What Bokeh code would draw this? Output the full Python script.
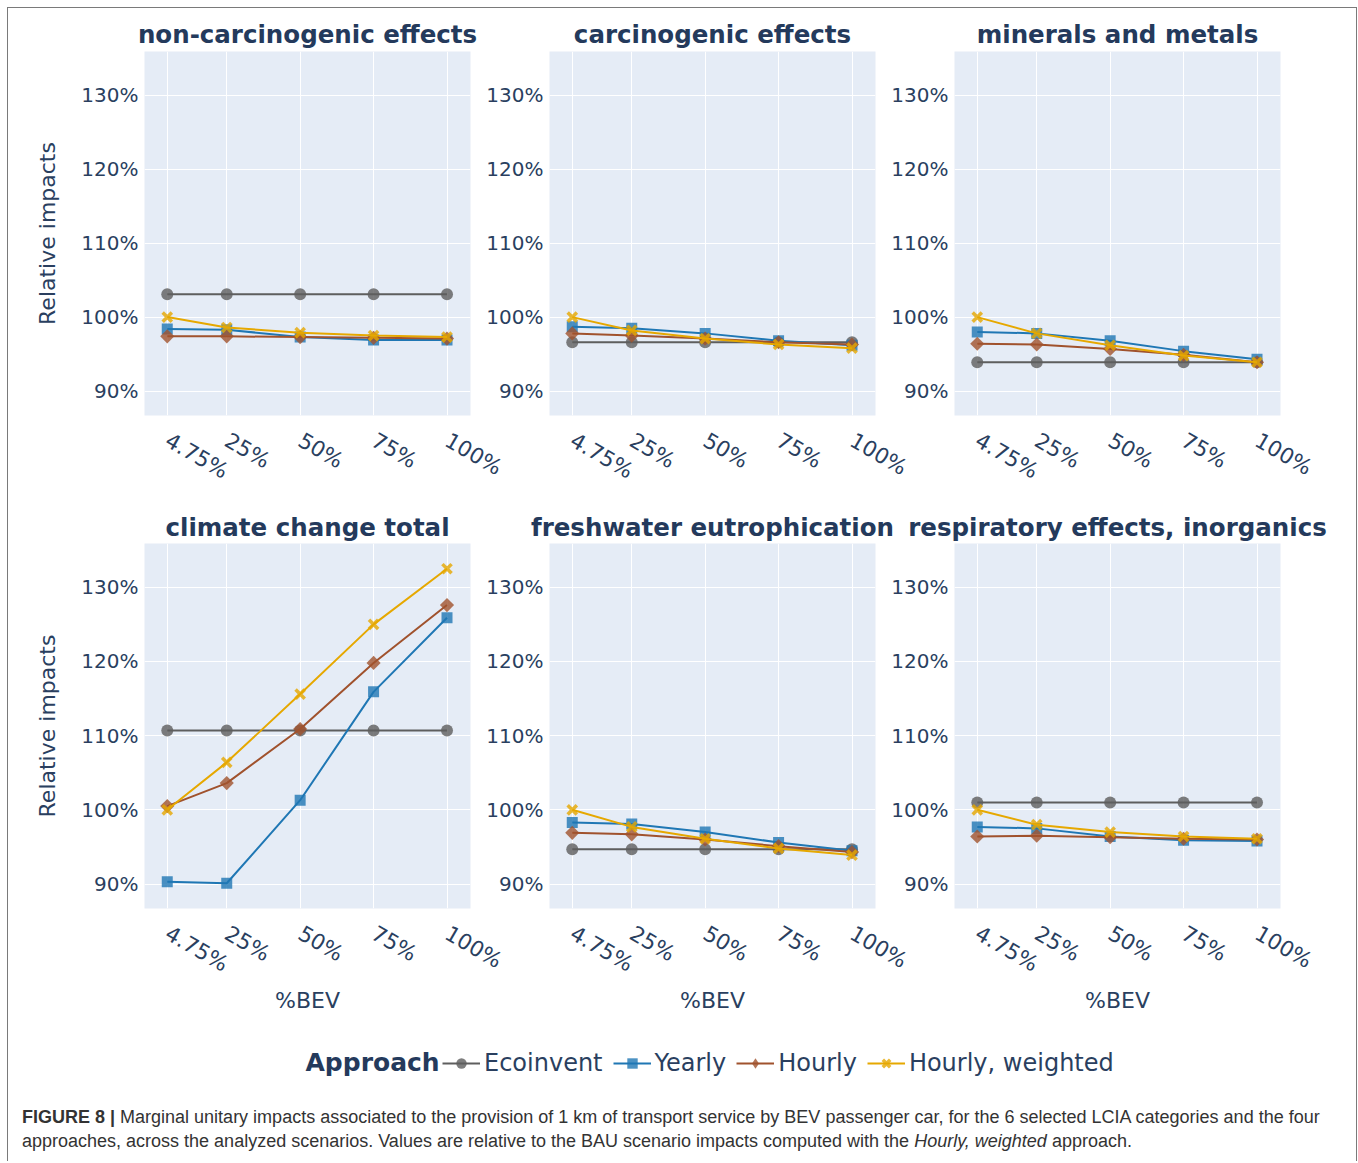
import math

from bokeh.embed import file_html
from bokeh.layouts import column, row
from bokeh.models import Div, FixedTicker, Label, Legend, LegendItem, PrintfTickFormatter, Range1d
from bokeh.plotting import figure
from bokeh.resources import INLINE

# Share of battery electric vehicles in each scenario
bev_share = [4.75, 25, 50, 75, 100]
bev_labels = ["4.75%", "25%", "50%", "75%", "100%"]
impact_ticks = [90, 100, 110, 120, 130]

approaches = ["Ecoinvent", "Yearly", "Hourly", "Hourly, weighted"]
categories = [
    "non-carcinogenic effects",
    "carcinogenic effects",
    "minerals and metals",
    "climate change total",
    "freshwater eutrophication",
    "respiratory effects, inorganics",
]

# Relative impacts (%) per approach, one dict per LCIA category
non_carcinogenic = {
    "Ecoinvent": [103.1, 103.1, 103.1, 103.1, 103.1],
    "Yearly": [98.4, 98.3, 97.3, 96.9, 96.9],
    "Hourly": [97.4, 97.4, 97.3, 97.2, 97.1],
    "Hourly, weighted": [100.0, 98.6, 97.9, 97.5, 97.3],
}
carcinogenic = {
    "Ecoinvent": [96.6, 96.6, 96.6, 96.6, 96.6],
    "Yearly": [98.7, 98.5, 97.8, 96.8, 96.2],
    "Hourly": [97.8, 97.5, 97.1, 96.6, 96.3],
    "Hourly, weighted": [100.0, 98.2, 97.1, 96.3, 95.8],
}
minerals_metals = {
    "Ecoinvent": [93.9, 93.9, 93.9, 93.9, 93.9],
    "Yearly": [98.0, 97.8, 96.8, 95.4, 94.3],
    "Hourly": [96.4, 96.3, 95.7, 94.9, 93.9],
    "Hourly, weighted": [100.0, 97.8, 96.2, 94.8, 93.9],
}
climate_change = {
    "Ecoinvent": [110.7, 110.7, 110.7, 110.7, 110.7],
    "Yearly": [90.3, 90.1, 101.3, 115.9, 125.9],
    "Hourly": [100.5, 103.6, 110.9, 119.8, 127.6],
    "Hourly, weighted": [100.0, 106.4, 115.6, 125.0, 132.5],
}
freshwater_eutro = {
    "Ecoinvent": [94.7, 94.7, 94.7, 94.7, 94.7],
    "Yearly": [98.3, 98.1, 97.0, 95.6, 94.5],
    "Hourly": [96.9, 96.7, 96.0, 95.1, 94.3],
    "Hourly, weighted": [100.0, 97.7, 96.1, 94.8, 93.9],
}
respiratory_inorg = {
    "Ecoinvent": [101.0, 101.0, 101.0, 101.0, 101.0],
    "Yearly": [97.7, 97.5, 96.4, 95.9, 95.8],
    "Hourly": [96.4, 96.5, 96.3, 96.1, 96.0],
    "Hourly, weighted": [100.0, 98.0, 97.0, 96.4, 96.1],
}
panel_data = [non_carcinogenic, carcinogenic, minerals_metals,
              climate_change, freshwater_eutro, respiratory_inorg]

FONT = "DejaVu Sans"
INK = "#2a3f5f"
TITLE_INK = "#243a5c"
PLOT_BG = "#e5ecf6"

STYLE = {
    "Ecoinvent": dict(color="#5e5e5e", marker="circle", size=12, angle=0.0),
    "Yearly": dict(color="#1f77b4", marker="square", size=11, angle=0.0),
    "Hourly": dict(color="#a0522d", marker="square", size=10, angle=math.pi / 4),
    "Hourly, weighted": dict(color="#e6a800", marker="x", size=13, angle=0.0),
}


def add_series(p, data, visible=True, legend_only=False):
    renderers = {}
    for name in approaches:
        st = STYLE[name]
        ln = p.line(bev_share, data[name], line_color=st["color"], line_width=2, visible=visible)
        if st["marker"] == "x":
            mk = p.scatter(bev_share, data[name], marker="x", size=st["size"],
                           line_color=st["color"], line_width=3.5, line_alpha=0.8, visible=visible)
        else:
            marker = st["marker"]
            if legend_only and st["angle"]:
                marker = "diamond"
            mk = p.scatter(bev_share, data[name], marker=marker, size=st["size"],
                           angle=st["angle"], fill_color=st["color"], fill_alpha=0.8,
                           line_color=None, visible=visible)
        renderers[name] = [ln, mk]
    return renderers


def make_panel(idx):
    r, c = divmod(idx, 3)
    p = figure(
        title=categories[idx],
        frame_width=326,
        frame_height=364 if r == 0 else 365,
        min_border_left=136 if c == 0 else 75,
        min_border_right=50 if c == 2 else 40,
        min_border_top=43,
        min_border_bottom=85 if r == 0 else 112,
        x_range=Range1d(-3, 108),
        y_range=Range1d(86.7, 135.9),
        output_backend="svg",
        toolbar_location=None,
    )
    p.background_fill_color = PLOT_BG
    p.border_fill_color = None
    p.outline_line_color = None

    p.title.align = "center"
    p.title.text_font = FONT
    p.title.text_font_size = "24.5px"
    p.title.text_font_style = "bold"
    p.title.text_color = TITLE_INK
    p.title.standoff = 5 if r == 0 else 4

    p.xaxis.ticker = FixedTicker(ticks=bev_share)
    p.xaxis.major_label_overrides = dict(zip(bev_share, bev_labels))
    p.xaxis.major_label_orientation = -math.pi / 6
    p.xaxis.major_label_standoff = 23
    p.yaxis.ticker = FixedTicker(ticks=impact_ticks)
    p.yaxis.formatter = PrintfTickFormatter(format="%d%%")
    p.yaxis.major_label_standoff = 6

    for ax in (p.xaxis, p.yaxis):
        ax.axis_line_color = None
        ax.major_tick_line_color = None
        ax.minor_tick_line_color = None
        ax.major_tick_out = 0
        ax.major_tick_in = 0
        ax.major_label_text_font = FONT
        ax.major_label_text_font_size = "20px"
        ax.major_label_text_color = INK
        ax.axis_label_text_font = FONT
        ax.axis_label_text_font_size = "22px"
        ax.axis_label_text_font_style = "normal"
        ax.axis_label_text_color = INK
    p.xaxis.major_label_text_font_size = "21.5px"

    if c == 0:
        p.yaxis.axis_label = "Relative impacts"
        p.yaxis.axis_label_standoff = 18
    if r == 1:
        p.xaxis.axis_label = "%BEV"
        p.xaxis.axis_label_standoff = -2

    p.xgrid.grid_line_color = "white"
    p.ygrid.grid_line_color = "white"
    p.xgrid.grid_line_width = 1
    p.ygrid.grid_line_width = 1

    add_series(p, panel_data[idx])
    if c > 0:
        p.margin = (0, 0, 0, -36)
    return p


panels = [make_panel(i) for i in range(6)]
top_row = row(panels[0], panels[1], panels[2])
bottom_row = row(panels[3], panels[4], panels[5])

# Shared legend strip
leg_fig = figure(width=1348, height=75, min_border=0, x_range=Range1d(0, 1), y_range=Range1d(80, 140),
                 x_axis_location=None, y_axis_location=None, toolbar_location=None,
                 output_backend="svg")
leg_fig.grid.visible = False
leg_fig.outline_line_color = None
leg_fig.background_fill_color = None
leg_fig.border_fill_color = None
leg_renderers = add_series(leg_fig, climate_change, visible=False, legend_only=True)
legend = Legend(
    items=[LegendItem(label=name, renderers=leg_renderers[name]) for name in approaches],
    orientation="horizontal",
    location=(434, 18),
    glyph_width=38,
    glyph_height=26,
    label_standoff=4,
    spacing=10,
    padding=0,
    margin=0,
    border_line_color=None,
    background_fill_alpha=0,
    label_text_font=FONT,
    label_text_font_size="24px",
    label_text_color=INK,
)
leg_fig.add_layout(legend, "center")
leg_fig.add_layout(Label(x=297, y=33, x_units="screen", y_units="screen", text="Approach",
                         text_font=FONT, text_font_size="25px", text_font_style="bold",
                         text_color=TITLE_INK, text_align="left", text_baseline="middle"))

caption = Div(
    text=("<b>FIGURE 8 |</b> Marginal unitary impacts associated to the provision of 1&nbsp;km of "
          "transport service by BEV passenger car, for the 6 selected LCIA categories and the four<br>"
          "approaches, across the analyzed scenarios. Values are relative to the BAU scenario impacts "
          "computed with the <i>Hourly, weighted</i> approach."),
    width=1330,
    margin=(10, 0, 8, 14),
    styles={"font-family": "Liberation Sans, Arial, sans-serif", "font-size": "18px",
            "line-height": "24px", "color": "#333333"},
)

page = column(top_row, bottom_row, leg_fig, caption, margin=(7, 0, 0, 7),
              styles={"border": "1px solid #7a7a7a", "border-bottom": "none"})

with open("out.html", "w") as f:
    f.write(file_html(page, INLINE))
